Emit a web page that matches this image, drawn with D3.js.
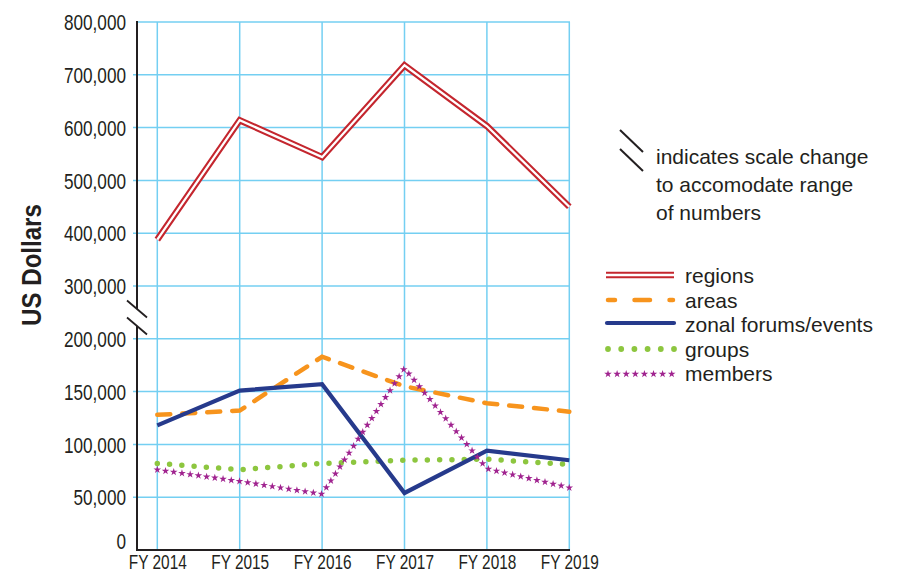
<!DOCTYPE html>
<html>
<head>
<meta charset="utf-8">
<script src="https://cdn.jsdelivr.net/npm/d3@7"></script>
<style>
  html, body { margin: 0; padding: 0; background: #fff; }
  svg { display: block; }
  .narrow, .reg { font-family: "Liberation Sans", Arial, sans-serif; }
</style>
</head>
<body>
<svg id="chart" width="901" height="573"></svg>
<script>
// ---------- data ----------
const years = ["FY 2014", "FY 2015", "FY 2016", "FY 2017", "FY 2018", "FY 2019"];
const regions = [388000, 614000, 544000, 718000, 603000, 450000];
const areas   = [128000, 132000, 183000, 155000, 139000, 131000];
const zonal   = [118000, 151000, 157000, 54000, 94000, 85000];
const groups  = [82000, 76000, 82000, 85000, 86000, 81000];
const members = [76000, 65000, 53000, 172000, 77000, 59000];
const yTicks = [0, 50000, 100000, 150000, 200000, 300000, 400000, 500000, 600000, 700000, 800000];
const seriesNames = ["regions", "areas", "zonal forums/events", "groups", "members"];
const noteLines = ["indicates scale change", "to accomodate range", "of numbers"];

// ---------- styles ----------
const C = {
  red: "#c4262e", orange: "#f7941d", navy: "#263a8c", green: "#8dc63f",
  purple: "#a0238f", grid: "#74cff2", ink: "#231f20"
};

// compress glyphs horizontally (condensed look)
function condense(sel, f) {
  sel.each(function () {
    const w = this.getComputedTextLength();
    d3.select(this).attr("textLength", w * f).attr("lengthAdjust", "spacingAndGlyphs");
  });
}

const svg = d3.select("#chart");
const axisX = 137, plotRight = 570, plotTop = 22, plotBottom = 550;

const x = d3.scalePoint().domain(years).range([157.3, 569.3]);
// broken axis: 0-200k and 300k-800k, each tick step the same height
const step = (plotBottom - plotTop) / 10;
const y = d3.scaleLinear()
  .domain([0, 200000, 300000, 800000])
  .range([plotBottom, plotBottom - 4 * step, plotBottom - 5 * step, plotTop]);

// ---------- grid ----------
const grid = svg.append("g");
grid.selectAll("line.h").data(yTicks.filter(d => d > 0)).join("line")
  .attr("x1", d => d === 800000 ? axisX : axisX - 4).attr("x2", plotRight)
  .attr("y1", d => y(d)).attr("y2", d => y(d))
  .attr("stroke", C.grid).attr("stroke-width", 1.5);
grid.selectAll("line.v").data(years).join("line")
  .attr("x1", d => x(d)).attr("x2", d => x(d))
  .attr("y1", plotTop).attr("y2", plotBottom)
  .attr("stroke", C.grid).attr("stroke-width", 1.5);

// ---------- lines ----------
const line = d3.line().x((d, i) => x(years[i])).y(d => y(d));

// regions: double line
svg.append("path").attr("d", line(regions)).attr("fill", "none")
  .attr("stroke", C.red).attr("stroke-width", 6.5).attr("stroke-linejoin", "miter");
svg.append("path").attr("d", line(regions)).attr("fill", "none")
  .attr("stroke", "#fff").attr("stroke-width", 2.3).attr("stroke-linejoin", "miter");

// areas: dashed
svg.append("path").attr("d", line(areas)).attr("fill", "none")
  .attr("stroke", C.orange).attr("stroke-width", 4.5)
  .attr("stroke-dasharray", "13 12").attr("stroke-linecap", "round");

// groups: dotted
svg.append("path").attr("d", line(groups)).attr("fill", "none")
  .attr("stroke", C.green).attr("stroke-width", 5.5)
  .attr("stroke-dasharray", "0 12.3").attr("stroke-linecap", "round");

// zonal: solid
svg.append("path").attr("d", line(zonal)).attr("fill", "none")
  .attr("stroke", C.navy).attr("stroke-width", 4.2).attr("stroke-linejoin", "miter");

// members: stars along the path
const star = d3.symbol().type(d3.symbolStar).size(18);
const mPath = svg.append("path").attr("d", line(members)).attr("fill", "none").attr("stroke", "none");
const mNode = mPath.node();
const mLen = mNode.getTotalLength();
const starPts = [];
for (let l = 0; l <= mLen + 0.01; l += 8.3) starPts.push(mNode.getPointAtLength(Math.min(l, mLen)));
svg.append("g").selectAll("path").data(starPts).join("path")
  .attr("d", star).attr("transform", p => `translate(${p.x},${p.y})`)
  .attr("fill", C.purple);

// ---------- axes ----------
const yAxis = d3.axisLeft(y).tickValues(yTicks).tickFormat(d3.format(",")).tickSize(0).tickPadding(11);
const gy = svg.append("g").attr("transform", `translate(${axisX},0)`).call(yAxis);
gy.select(".domain").remove();
gy.selectAll("text").attr("class", "narrow").attr("font-size", 22).attr("fill", C.ink)
  .attr("dy", d => d === 0 ? "-0.05em" : "0.35em").call(condense, 0.78);

// axis line with break
const brkTop = 309, brkBot = 326;
svg.append("line").attr("x1", axisX).attr("x2", axisX).attr("y1", plotTop - 1).attr("y2", brkTop)
  .attr("stroke", C.ink).attr("stroke-width", 2);
svg.append("line").attr("x1", axisX).attr("x2", axisX).attr("y1", brkBot).attr("y2", plotBottom + 1)
  .attr("stroke", C.ink).attr("stroke-width", 2);
[brkTop, brkBot].forEach(cy => {
  svg.append("line").attr("x1", axisX - 10).attr("y1", cy - 8.5).attr("x2", axisX + 10).attr("y2", cy + 8.5)
    .attr("stroke", C.ink).attr("stroke-width", 1.8);
});

const xAxis = d3.axisBottom(x).tickSize(0).tickPadding(0);
const gx = svg.append("g").attr("transform", `translate(0,${plotBottom})`).call(xAxis);
gx.select(".domain").remove();
gx.selectAll("text").attr("class", "narrow").attr("font-size", 20).attr("fill", C.ink)
  .attr("dy", null).attr("y", 0)
  .attr("transform", "translate(0,18.5) scale(0.77,1)");
svg.append("line").attr("x1", axisX - 1).attr("x2", plotRight).attr("y1", plotBottom).attr("y2", plotBottom)
  .attr("stroke", C.ink).attr("stroke-width", 2);

// y title
svg.append("text").attr("class", "narrow")
  .attr("transform", "translate(41,265) rotate(-90)")
  .attr("text-anchor", "middle").attr("font-size", 28).attr("font-weight", "bold")
  .attr("fill", C.ink).text("US Dollars").call(condense, 0.86);

// ---------- note ----------
[130, 149].forEach(y0 => {
  svg.append("line").attr("x1", 620).attr("y1", y0).attr("x2", 643).attr("y2", y0 + 22)
    .attr("stroke", C.ink).attr("stroke-width", 2);
});
svg.append("g").selectAll("text").data(noteLines).join("text")
  .attr("class", "reg").attr("x", 656).attr("y", (d, i) => 163.5 + i * 28)
  .attr("font-size", 21).attr("fill", C.ink).text(d => d);

// ---------- legend ----------
const legY = [275, 300, 323, 349, 374];
const lg = svg.append("g");
// regions
lg.append("line").attr("x1", 606).attr("x2", 674).attr("y1", legY[0]).attr("y2", legY[0])
  .attr("stroke", C.red).attr("stroke-width", 6.5);
lg.append("line").attr("x1", 605).attr("x2", 675).attr("y1", legY[0]).attr("y2", legY[0])
  .attr("stroke", "#fff").attr("stroke-width", 2.3);
// areas
lg.append("line").attr("x1", 608).attr("x2", 673).attr("y1", legY[1]).attr("y2", legY[1])
  .attr("stroke", C.orange).attr("stroke-width", 4.5).attr("stroke-linecap", "round")
  .attr("stroke-dasharray", "15.5 19.5").attr("stroke-dashoffset", 8.5);
// zonal
lg.append("line").attr("x1", 607).attr("x2", 674).attr("y1", legY[2]).attr("y2", legY[2])
  .attr("stroke", C.navy).attr("stroke-width", 4.2).attr("stroke-linecap", "round");
// groups
lg.append("g").selectAll("circle").data(d3.range(6)).join("circle")
  .attr("cx", i => 608 + i * 13.2).attr("cy", legY[3]).attr("r", 2.9).attr("fill", C.green);
// members
lg.append("g").selectAll("path").data(d3.range(8)).join("path")
  .attr("d", d3.symbol().type(d3.symbolStar).size(18))
  .attr("transform", i => `translate(${608 + i * 9.1},${legY[4]})`).attr("fill", C.purple);
lg.selectAll("text.lab").data(seriesNames).join("text")
  .attr("class", "reg").attr("x", 685).attr("y", (d, i) => 283 + i * 24.6)
  .attr("font-size", 21).attr("fill", C.ink).text(d => d);
</script>
</body>
</html>
